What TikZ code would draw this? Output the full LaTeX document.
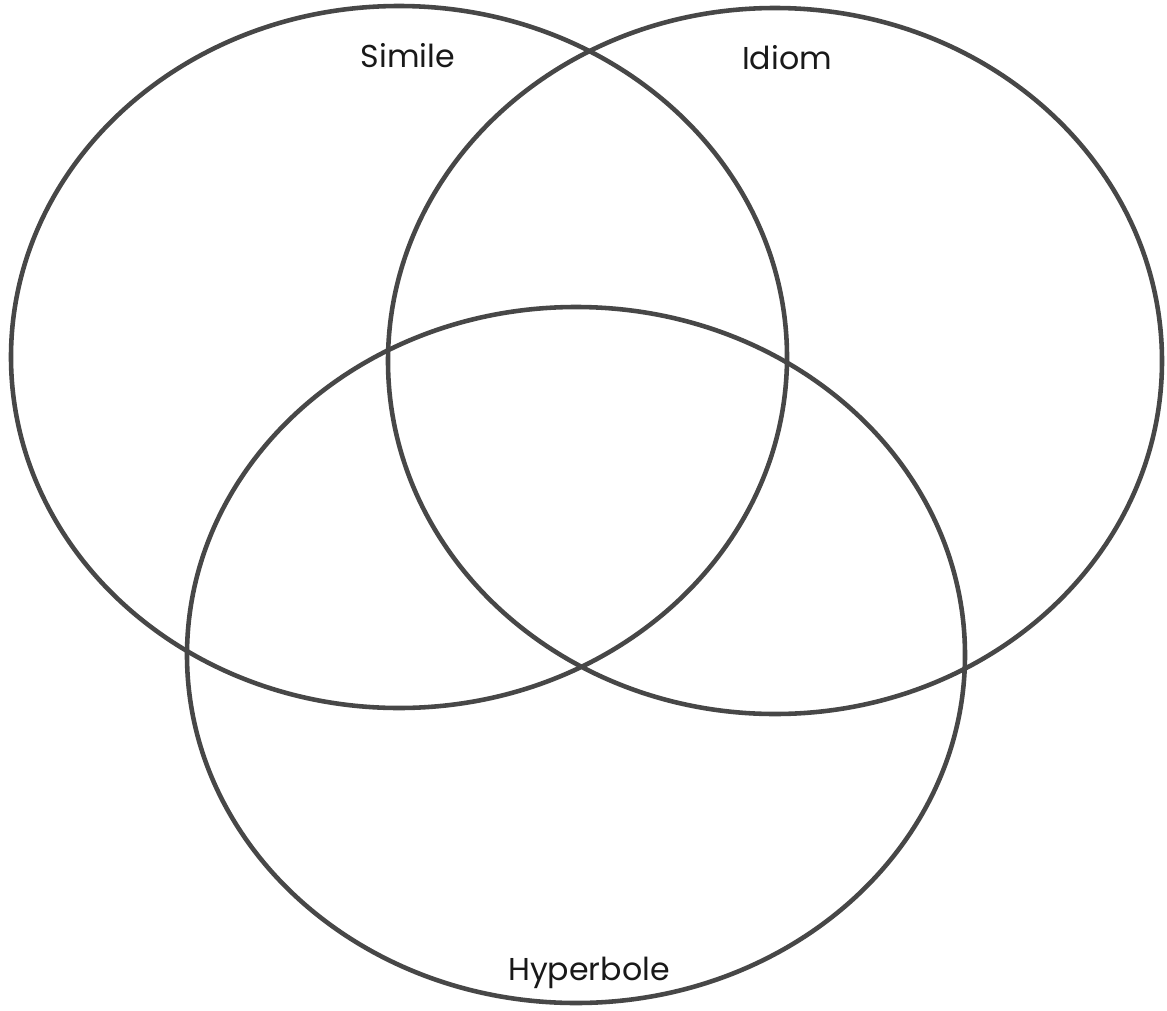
\documentclass[tikz,border=0pt]{standalone}
\usepackage{fontspec}
\setmainfont{Poppins}
\begin{document}
\begin{tikzpicture}[x=0.02cm,y=-0.02cm,
  venn/.style={draw=black!72,line width=2.6pt},
  lbl/.style={font=\fontsize{18}{20}\selectfont,text=black!90,inner sep=0pt}]
\useasboundingbox (0,0) rectangle (1167,1011);
\fill[white] (0,0) rectangle (1167,1011);
\draw[venn] (399,357) ellipse [x radius=388, y radius=351];
\draw[venn] (775,361) ellipse [x radius=387, y radius=353];
\draw[venn] (576,655) ellipse [x radius=389, y radius=348];
\node[lbl] (simile) at (408,56) {Simile};
\node[lbl] (idiom) at (787,58) {Idiom};
\node[lbl] (hyper) at (589,973) {Hyperbole};
\end{tikzpicture}
\end{document}
